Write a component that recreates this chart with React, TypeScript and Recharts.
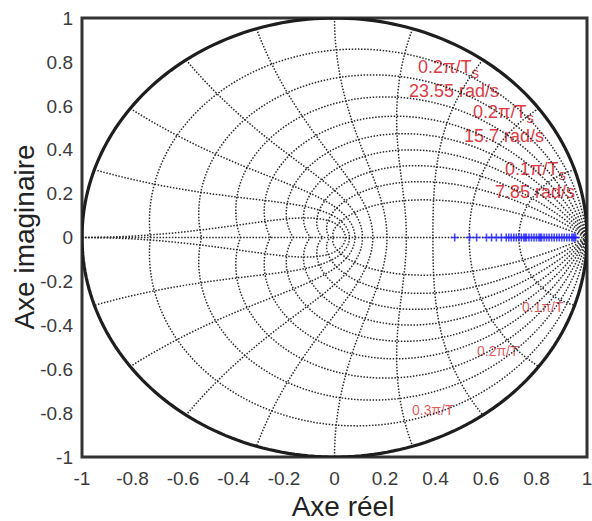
import React from 'react'
import { ComposedChart, Line, Scatter, XAxis, YAxis, ReferenceArea } from 'recharts'

// damping ratios and natural frequencies (× π/T) of the z-plane grid
const ZETAS = [0.1, 0.2, 0.3, 0.4, 0.5, 0.6, 0.7, 0.8, 0.9]
const WNS = [0.1, 0.2, 0.3, 0.4, 0.5, 0.6, 0.7, 0.8, 0.9, 1.0]
const X_TICKS = [-1, -0.8, -0.6, -0.4, -0.2, 0, 0.2, 0.4, 0.6, 0.8, 1]
const Y_TICKS = [-1, -0.8, -0.6, -0.4, -0.2, 0, 0.2, 0.4, 0.6, 0.8, 1]

// real parts of the poles (all on the real axis)
const POLES_RE = [
  0.476, 0.535, 0.563, 0.602, 0.622, 0.641, 0.661, 0.68, 0.69, 0.7, 0.71, 0.72, 0.73, 0.74,
  0.75, 0.755, 0.76, 0.77, 0.78, 0.79, 0.8, 0.81, 0.815, 0.82, 0.83, 0.84, 0.85, 0.86, 0.87,
  0.88, 0.89, 0.9, 0.91, 0.92, 0.93, 0.94, 0.945, 0.95, 0.955,
]

const STEPS = 90
const FONT = '"Liberation Sans", Arial, sans-serif'
const RED = '#dc3c46'
const GRID = { stroke: '#2a2a2a', strokeWidth: 1.5, strokeDasharray: '1.5 1.6' }

type Pt = { x: number; y: number }

// constant damping spiral, upper half then mirrored lower half
function zetaCurve(zeta: number): Pt[] {
  const m = zeta / Math.sqrt(1 - zeta * zeta)
  const up: Pt[] = []
  for (let k = 0; k <= STEPS; k++) {
    const t = (Math.PI * k) / STEPS
    const r = Math.exp(-m * t)
    up.push({ x: r * Math.cos(t), y: r * Math.sin(t) })
  }
  const down = up.slice().reverse().map((p) => ({ x: p.x, y: -p.y }))
  return [...up, ...down]
}

// constant natural frequency curve
function wnCurve(wn: number): Pt[] {
  const up: Pt[] = []
  for (let k = 0; k <= STEPS; k++) {
    const phi = Math.PI / 2 + (Math.PI / 2) * (k / STEPS)
    const a = wn * Math.PI * Math.cos(phi)
    const b = wn * Math.PI * Math.sin(phi)
    const r = Math.exp(a)
    up.push({ x: r * Math.cos(b), y: r * Math.sin(b) })
  }
  const down = up.slice().reverse().map((p) => ({ x: p.x, y: -p.y }))
  return [...up, ...down]
}

const unitCircle: Pt[] = Array.from({ length: 241 }, (_, i) => {
  const t = (2 * Math.PI * i) / 240
  return { x: Math.cos(t), y: Math.sin(t) }
})

const realAxis: Pt[] = [{ x: -1, y: 0 }, { x: 1, y: 0 }]
const poles = POLES_RE.map((x) => ({ x, y: 0 }))

const PlusMark = (props: any) => {
  const { cx, cy } = props
  if (cx == null || cy == null) return null
  return <path d={`M${cx - 4},${cy}h8M${cx},${cy - 4}v8`} stroke="#2020ff" strokeOpacity={0.8} strokeWidth={1.6} />
}

function Annotations() {
  const big = { fontFamily: FONT, fontSize: 18, fill: RED }
  const small = { fontFamily: FONT, fontSize: 14, fill: RED, fillOpacity: 0.85 }
  const Ts = (x: number, y: number, txt: string) => (
    <text x={x} y={y} style={big}>
      {txt}
      <tspan fontSize={15} dy={5}>s</tspan>
    </text>
  )
  return (
    <g>
      {Ts(418, 73, '0.2π/T')}
      <text x={409} y={97} style={big}>23.55 rad/s</text>
      {Ts(473, 118, '0.2π/T')}
      <text x={464} y={142} style={big}>15.7 rad/s</text>
      {Ts(505, 175, '0.1π/T')}
      <text x={495} y={198} style={big}>7.85 rad/s</text>
      <text x={522} y={312} style={small}>0.1π/T</text>
      <text x={477} y={356} style={small}>0.2π/T</text>
      <text x={412} y={415} style={small}>0.3π/T</text>
      <text x={343} y={516} textAnchor="middle" style={{ fontFamily: FONT, fontSize: 28, fill: '#222' }}>Axe réel</text>
      <text x={34} y={237} textAnchor="middle" transform="rotate(-90 34 237)" style={{ fontFamily: FONT, fontSize: 28, fill: '#222' }}>
        Axe imaginaire
      </text>
    </g>
  )
}

export default function App() {
  const tick = { fontSize: 19, fill: '#3a3a3a', fontFamily: FONT }
  return (
    <div style={{ position: 'absolute', left: 0, top: 0, background: '#fff' }}>
      <ComposedChart width={592} height={521} margin={{ top: 18, right: 5, bottom: 0, left: 0 }}>
        <XAxis
          dataKey="x"
          type="number"
          domain={[-1, 1]}
          ticks={X_TICKS}
          allowDataOverflow
          axisLine={false}
          tickLine={false}
          tickSize={0}
          tickMargin={15}
          height={64}
          tick={tick}
          interval={0}
        />
        <YAxis
          dataKey="y"
          type="number"
          domain={[-1, 1]}
          ticks={Y_TICKS}
          allowDataOverflow
          axisLine={false}
          tickLine={false}
          tickSize={0}
          tickMargin={9}
          width={82}
          tick={tick}
          interval={0}
        />
        <Line data={realAxis} dataKey="y" dot={false} activeDot={false} isAnimationActive={false} {...GRID} />
        {ZETAS.map((z) => (
          <Line key={`z${z}`} data={zetaCurve(z)} dataKey="y" type="linear" dot={false} activeDot={false} isAnimationActive={false} {...GRID} />
        ))}
        {WNS.map((w) => (
          <Line key={`w${w}`} data={wnCurve(w)} dataKey="y" type="linear" dot={false} activeDot={false} isAnimationActive={false} {...GRID} />
        ))}
        <Line data={unitCircle} dataKey="y" type="linear" dot={false} activeDot={false} isAnimationActive={false} stroke="#1e1e1e" strokeWidth={3.2} />
        <Scatter data={poles} dataKey="y" shape={PlusMark} isAnimationActive={false} />
        <ReferenceArea x1={-1} x2={1} y1={-1} y2={1} fill="none" fillOpacity={0} stroke="#333" strokeWidth={3} ifOverflow="visible" />
        <Annotations />
      </ComposedChart>
    </div>
  )
}
